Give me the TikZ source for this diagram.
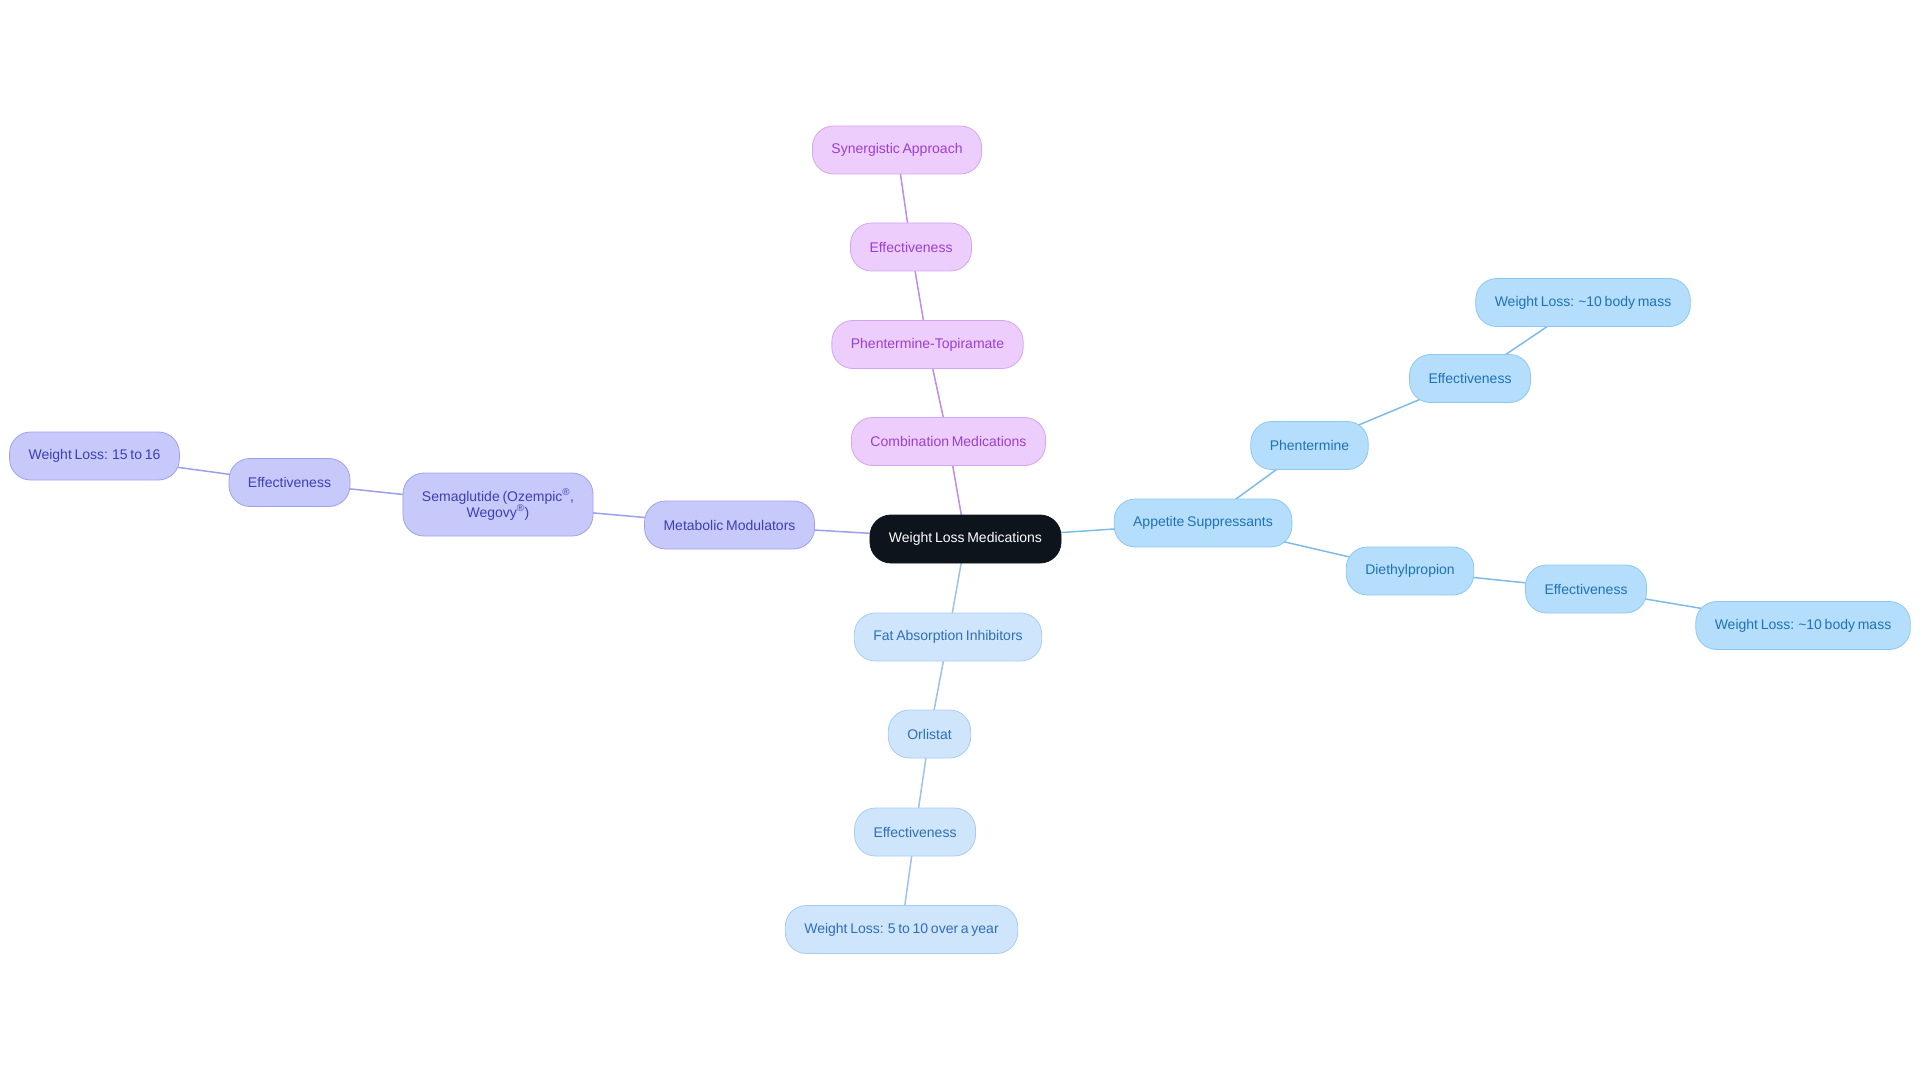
\documentclass[tikz,border=0pt]{standalone}
\usepackage{fontspec}
\setmainfont{Liberation Sans}[WordSpace=0.7]
\pgfdeclarelayer{background}
\pgfsetlayers{background,main}
\definecolor{rootfill}{HTML}{0D141C}
\definecolor{bfill}{HTML}{B5DEFC}\definecolor{bdraw}{HTML}{8CC8F2}\definecolor{btext}{HTML}{1F72B8}\definecolor{bline}{HTML}{7DBCE8}
\definecolor{lfill}{HTML}{CFE5FC}\definecolor{ldraw}{HTML}{A8CCF1}\definecolor{ltext}{HTML}{2F6EBA}\definecolor{lline}{HTML}{9DC2EA}
\definecolor{mfill}{HTML}{C8C9FB}\definecolor{mdraw}{HTML}{A0A1EE}\definecolor{mtext}{HTML}{3C3FB5}\definecolor{mline}{HTML}{9D9EEE}
\definecolor{cfill}{HTML}{ECCDFC}\definecolor{cdraw}{HTML}{D2A6F3}\definecolor{ctext}{HTML}{9B3FD0}\definecolor{cline}{HTML}{C08CEA}
\tikzset{
  mm/.style={rectangle, rounded corners=21pt, minimum height=48pt, inner xsep=19pt, inner ysep=4pt,
    font=\fontsize{14}{17}\selectfont, line width=0.8pt, align=center},
  rootbox/.style={mm, fill=rootfill, draw=rootfill, text=white},
  bbox/.style={mm, fill=bfill, draw=bdraw, text=btext},
  lbox/.style={mm, fill=lfill, draw=ldraw, text=ltext},
  mbox/.style={mm, fill=mfill, draw=mdraw, text=mtext},
  cbox/.style={mm, fill=cfill, draw=cdraw, text=ctext},
  conn/.style={line width=1.5pt},
}
\begin{document}
\begin{tikzpicture}[x=1pt,y=-1pt]
\useasboundingbox (0,0) rectangle (1920,1083);
\node[rootbox] (root) at (965.5,539) {Weight Loss Medications};
% appetite
\node[bbox] (app) at (1203,523) {Appetite Suppressants};
\node[bbox] (phen) at (1309.5,445.5) {Phentermine};
\node[bbox] (eff1) at (1470,378.5) {Effectiveness};
\node[bbox] (wl1) at (1583,302.5) {Weight Loss: \textasciitilde10 body mass};
\node[bbox] (die) at (1410,571) {Diethylpropion};
\node[bbox] (eff2) at (1586,589) {Effectiveness};
\node[bbox] (wl2) at (1803,625.5) {Weight Loss: \textasciitilde10 body mass};
% fat
\node[lbox] (fat) at (948,637) {Fat Absorption Inhibitors};
\node[lbox] (orl) at (929.5,734) {Orlistat};
\node[lbox] (eff3) at (915,832) {Effectiveness};
\node[lbox] (wl3) at (901.5,929.5) {Weight Loss: 5 to 10 over a year};
% metabolic
\node[mbox] (met) at (729.5,525) {Metabolic Modulators};
\node[mbox, minimum height=63pt] (sem) at (498,504.5) {Semaglutide (Ozempic\textsuperscript{®},\\[-1pt] Wegovy\textsuperscript{®})};
\node[mbox] (eff4) at (289.5,482.5) {Effectiveness};
\node[mbox] (wl4) at (94.5,456) {Weight Loss: 15 to 16};
% combination
\node[cbox] (comb) at (948.5,441.5) {Combination Medications};
\node[cbox] (pt) at (927.5,344.5) {Phentermine-Topiramate};
\node[cbox] (eff5) at (911,247) {Effectiveness};
\node[cbox] (syn) at (897,150) {Synergistic Approach};
\begin{pgfonlayer}{background}
\draw[conn, bline] (root.center) -- (app.center);
\draw[conn, bline] (app.center) -- (phen.center);
\draw[conn, bline] (phen.center) -- (eff1.center);
\draw[conn, bline] (eff1.center) -- (wl1.center);
\draw[conn, bline] (app.center) -- (die.center);
\draw[conn, bline] (die.center) -- (eff2.center);
\draw[conn, bline] (eff2.center) -- (wl2.center);
\draw[conn, lline] (root.center) -- (fat.center);
\draw[conn, lline] (fat.center) -- (orl.center);
\draw[conn, lline] (orl.center) -- (eff3.center);
\draw[conn, lline] (eff3.center) -- (wl3.center);
\draw[conn, mline] (root.center) -- (met.center);
\draw[conn, mline] (met.center) -- (sem.center);
\draw[conn, mline] (sem.center) -- (eff4.center);
\draw[conn, mline] (eff4.center) -- (wl4.center);
\draw[conn, cline] (root.center) -- (comb.center);
\draw[conn, cline] (comb.center) -- (pt.center);
\draw[conn, cline] (pt.center) -- (eff5.center);
\draw[conn, cline] (eff5.center) -- (syn.center);
\end{pgfonlayer}
\end{tikzpicture}
\end{document}
